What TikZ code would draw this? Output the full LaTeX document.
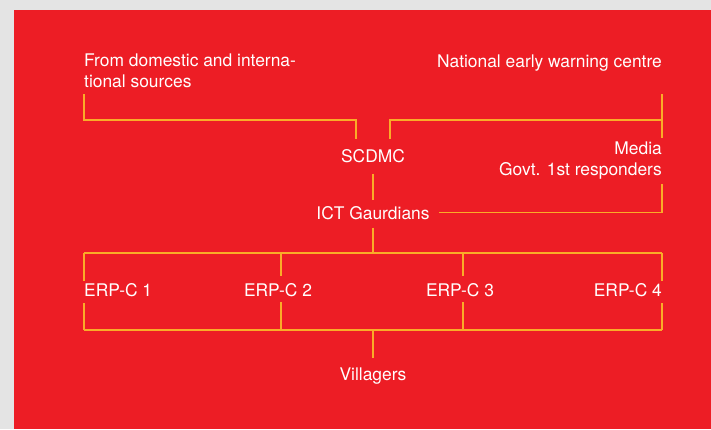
\documentclass[tikz,border=0pt]{standalone}
\usepackage{fontspec}
\setmainfont{TeX Gyre Heros}
\definecolor{bgred}{RGB}{237,29,37}
\definecolor{bggray}{RGB}{228,228,228}
\definecolor{ln}{RGB}{250,172,40}
\tikzset{
  txt/.style={text=white, inner sep=0pt, font=\fontsize{17.4}{21}\selectfont},
  conn/.style={draw=ln, line width=1.3pt}
}
\begin{document}
\begin{tikzpicture}[x=1pt,y=-1pt]
\useasboundingbox (0,0) rectangle (711,429);
\fill[bggray] (0,0) rectangle (711,429);
\fill[bgred] (14,10) rectangle (711,429);

\node[txt, anchor=base west, align=left] (src) at (84,87) {From domestic and interna-\\tional sources};
\node[txt, anchor=base east] (nat) at (662,67) {National early warning centre};
\node[txt, anchor=base] (scdmc) at (373,162) {SCDMC};
\node[txt, anchor=base east, align=right] (media) at (662,175) {Media\\Govt. 1st responders};
\node[txt, anchor=base] (ict) at (373,219) {ICT Gaurdians};
\node[txt, anchor=base west] (e1) at (84,296) {ERP-C 1};
\node[txt, anchor=base] (e2) at (278,296) {ERP-C 2};
\node[txt, anchor=base] (e3) at (460,296) {ERP-C 3};
\node[txt, anchor=base east] (e4) at (662,296) {ERP-C 4};
\node[txt, anchor=base] (vil) at (373,380) {Villagers};

\coordinate (tl) at (84,253);
\coordinate (tr) at (662,253);
\coordinate (bl) at (84,330);
\coordinate (br) at (662,330);
\coordinate (t2) at (281,253);
\coordinate (t3) at (463,253);
\coordinate (b2) at (281,330);
\coordinate (b3) at (463,330);
\coordinate (topmid) at (373,253);
\coordinate (botmid) at (373,330);

% source bracket
\draw[conn] ([yshift=-7pt]src.south west) |- (356,120) -- (356,139);
% national bracket
\draw[conn] (390,139) |- (662,120);
\draw[conn] ([yshift=-27pt]nat.base east) -- (662,138);
% govt to ict
\draw[conn] ([yshift=-5pt]media.south east) |- ([xshift=9pt]ict.east);
% scdmc - ict
\draw[conn] ([yshift=-11pt]scdmc.south) -- ([yshift=6pt]ict.north);
\draw[conn] ([yshift=-8pt]ict.south) -- (topmid);
% ERP bracket
\draw[conn] (tl) -- (tr);
\draw[conn] (bl) -- (br);
\draw[conn] (tl) -- (84,281);
\draw[conn] (84,303) -- (bl);
\draw[conn] (tr) -- (662,281);
\draw[conn] (662,303) -- (br);
\draw[conn] (t2) -- (281,276);
\draw[conn] (281,302) -- (b2);
\draw[conn] (t3) -- (463,276);
\draw[conn] (463,302) -- (b3);
% villagers
\draw[conn] (botmid) -- ([yshift=9pt]vil.north);
\end{tikzpicture}
\end{document}
